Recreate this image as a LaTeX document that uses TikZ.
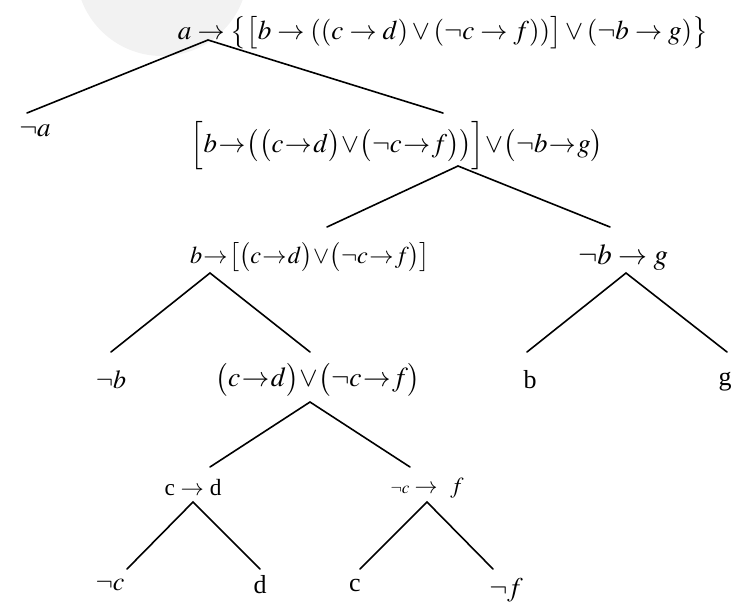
\documentclass[tikz,border=0pt]{standalone}
\usepackage{mathptmx}
\usepackage[no-math]{fontspec}
\setmainfont{Liberation Serif}
\usepackage{graphicx}
\newcommand{\ar}{\mathrel{\mkern-3mu\rightarrow\mkern-3mu}}
\begin{document}
\begin{tikzpicture}[x=1pt,y=-1pt,
  edge/.style={line width=1.6pt,line cap=round},
  lbl/.style={inner sep=0pt,font=\fontsize{23}{26}\selectfont},
  leaf/.style={inner sep=0pt,font=\fontsize{26}{28}\selectfont}]
\useasboundingbox (0,0) rectangle (734,603);
\fill[black!5] (162,-30) circle (86);
% texts
\node[lbl] (f1) at (443,33) {\resizebox{530pt}{!}{$a \rightarrow \bigl\{\bigl[b \rightarrow ((c \rightarrow d) \vee (\neg c \rightarrow f))\bigr] \vee (\neg b \rightarrow g)\bigr\}$}};
\node[lbl,font=\fontsize{27}{30}\selectfont] (na) at (35,131) {$\neg a$};
\node[lbl] (f2) at (397,146) {\resizebox{412pt}{!}{$\Bigl[b\ar\bigl(\bigl(c\ar d\bigr)\mkern-2mu\vee\mkern-2mu\bigl(\neg c\ar f\bigr)\bigr)\Bigr]\mkern-2mu\vee\mkern-2mu\bigl(\neg b\ar g\bigr)$}};
\node[lbl] (f3) at (310,257) {\resizebox{240pt}{!}{$b\ar\bigl[\bigl(c\ar d\bigr)\mkern-2mu\vee\mkern-2mu\bigl(\neg c\ar f\bigr)\bigr]$}};
\node[lbl] (nbg) at (623,257) {\resizebox{90pt}{!}{$\neg b\rightarrow g$}};
\node[leaf] (nb) at (111,380) {$\neg b$};
\node[lbl] (f4) at (318,380) {\resizebox{205pt}{!}{$\bigl(c\ar d\bigr)\mkern-2mu\vee\mkern-2mu\bigl(\neg c\ar f\bigr)$}};
\node[leaf] (b) at (530,380) {b};
\node[leaf] (g) at (725,382) {g};
\node[lbl] (cd) at (193,488) {\resizebox{57pt}{!}{c $\rightarrow$ d}};
\node[lbl] (ncf) at (427,488) {\resizebox{73pt}{!}{${\scriptstyle\neg c} \rightarrow\;\, f$}};
\node[leaf] (nc) at (110,585) {$\neg c$};
\node[leaf] (d) at (260,585) {d};
\node[leaf] (c) at (355,585) {c};
\node[lbl,font=\fontsize{27}{29}\selectfont] (nf) at (506,590) {$\neg f$};
% connector points
\coordinate (p1) at (208,40);
\coordinate (l1) at (27,113);
\coordinate (r1) at (443,113);
\coordinate (p2) at (458,166);
\coordinate (l2) at (327,227);
\coordinate (r2) at (610,227);
\coordinate (p3) at (210,273);
\coordinate (l3) at (111,352);
\coordinate (r3) at (310,352);
\coordinate (p4) at (626,273);
\coordinate (l4) at (527,352);
\coordinate (r4) at (727,352);
\coordinate (p5) at (310,402);
\coordinate (l5) at (210,467);
\coordinate (r5) at (410,467);
\coordinate (p6) at (193,502);
\coordinate (l6) at (127,569);
\coordinate (r6) at (260,569);
\coordinate (p7) at (427,502);
\coordinate (l7) at (360,569);
\coordinate (r7) at (493,569);
\foreach \i in {1,...,7}{
  \draw[edge] (l\i) -- (p\i) -- (r\i);
}
\end{tikzpicture}
\end{document}
